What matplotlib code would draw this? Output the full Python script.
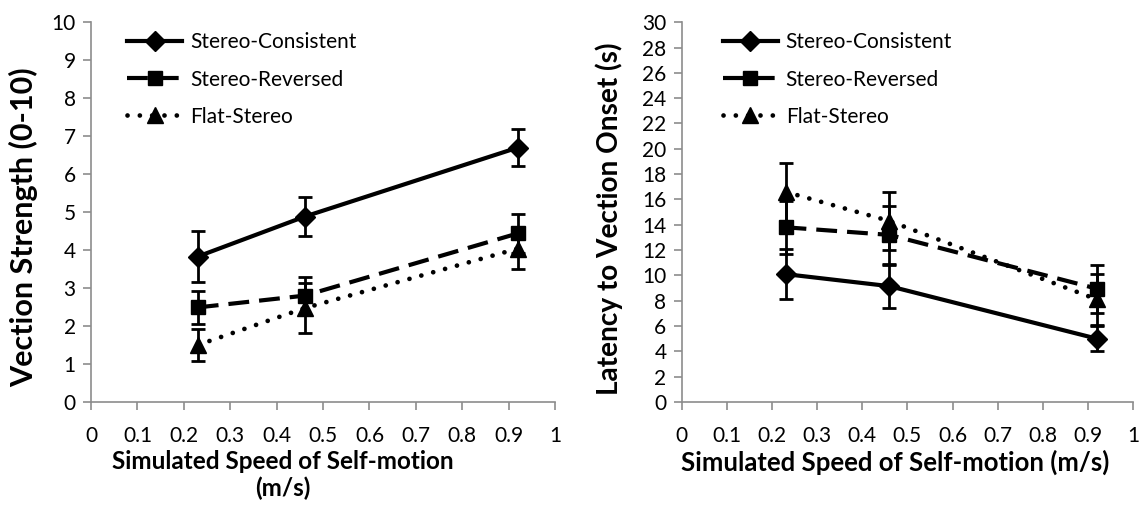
import matplotlib
matplotlib.use("Agg")
import matplotlib.pyplot as plt
from matplotlib.lines import Line2D

plt.rcParams["font.family"] = ["Lato", "DejaVu Sans"]

speeds = [0.23, 0.46, 0.92]
series_names = ["Stereo-Consistent", "Stereo-Reversed", "Flat-Stereo"]

# Vection strength (0-10)
strength = {
    "Stereo-Consistent": [3.83, 4.88, 6.70],
    "Stereo-Reversed": [2.49, 2.80, 4.44],
    "Flat-Stereo": [1.50, 2.47, 4.04],
}
strength_err = {
    "Stereo-Consistent": [0.67, 0.52, 0.49],
    "Stereo-Reversed": [0.43, 0.50, 0.52],
    "Flat-Stereo": [0.43, 0.65, 0.55],
}

# Latency to vection onset (s)
latency = {
    "Stereo-Consistent": [10.1, 9.15, 5.0],
    "Stereo-Reversed": [13.8, 13.2, 8.95],
    "Flat-Stereo": [16.6, 14.3, 8.1],
}
latency_err = {
    "Stereo-Consistent": [1.95, 1.7, 1.0],
    "Stereo-Reversed": [2.1, 2.3, 1.9],
    "Flat-Stereo": [2.3, 2.3, 2.0],
}

styles = {
    "Stereo-Consistent": dict(ls="-", marker="D", ms=10, cap="butt", lw=3),
    "Stereo-Reversed": dict(ls=(0, (5, 2.4)), marker="s", ms=10.5, cap="butt", lw=3),
    "Flat-Stereo": dict(ls=(0, (0.01, 2.6)), marker="^", ms=11, cap="round", lw=3.4),
}

fig = plt.figure(figsize=(11.41, 5.05), dpi=100)
ax1 = fig.add_axes([0.0798, 0.204, 0.4067, 0.752])
ax2 = fig.add_axes([0.5975, 0.204, 0.3955, 0.752])


def draw(ax, values, errors, ymax, ystep, ylabel, ylab_size, xlabel, xlab_size,
         ylab_pos, xlab_pos, leg_x):
    handles = []
    for name in series_names:
        st = styles[name]
        ax.errorbar(speeds, values[name], yerr=errors[name], color="black",
                    lw=st["lw"], ls=st["ls"], marker=st["marker"], ms=st["ms"],
                    ecolor="black", elinewidth=2, capsize=5, capthick=2,
                    dash_capstyle=st["cap"])
        handles.append(Line2D([], [], color="black", lw=st["lw"], ls=st["ls"],
                              marker=st["marker"], ms=st["ms"],
                              dash_capstyle=st["cap"], label=name))
    ax.set_xlim(0, 1)
    ax.set_ylim(0, ymax)
    ax.set_xticks([i / 10 for i in range(11)])
    ax.set_xticklabels(["0"] + [f"{i / 10:.1f}" for i in range(1, 10)] + ["1"])
    ax.set_yticks(range(0, ymax + 1, ystep))
    for side in ["top", "right"]:
        ax.spines[side].set_visible(False)
    for side in ["left", "bottom"]:
        ax.spines[side].set_color("#8c8c8c")
        ax.spines[side].set_linewidth(1.2)
    ax.tick_params(direction="out", length=6, width=1.2, color="#8c8c8c",
                   labelsize=15, pad=5)
    ax.tick_params(axis="x", pad=11)
    ax.set_ylabel(ylabel, fontsize=ylab_size, fontweight="bold")
    ax.yaxis.set_label_coords(*ylab_pos)
    ax.set_xlabel(xlabel, fontsize=xlab_size, fontweight="bold", linespacing=1.2)
    ax.xaxis.set_label_coords(*xlab_pos)
    ax.legend(handles=handles, loc="upper left", frameon=False, fontsize=15,
              handlelength=2.65, handletextpad=0.38, labelspacing=0.82,
              borderaxespad=0, bbox_to_anchor=(leg_x, 0.995))


draw(ax1, strength, strength_err, 10, 1, "Vection Strength (0-10)", 22,
     "Simulated Speed of Self-motion\n(m/s)", 17.5,
     (-0.114, 0.46), (0.414, -0.126), 0.06)
draw(ax2, latency, latency_err, 30, 2, "Latency to Vection Onset (s)", 20.2,
     "Simulated Speed of Self-motion (m/s)", 18.5,
     (-0.130, 0.483), (0.473, -0.126), 0.072)

fig.savefig("out.png", dpi=100)
